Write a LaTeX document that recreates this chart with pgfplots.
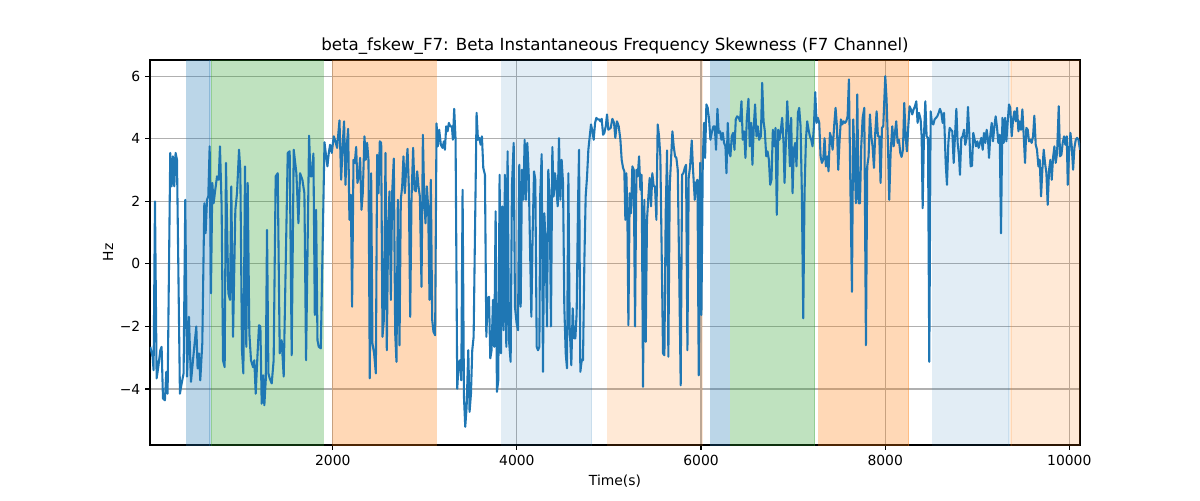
\documentclass[border=0pt]{standalone}
\usepackage{fontspec}
\setmainfont{DejaVu Sans}
\usepackage{pgfplots}
\pgfplotsset{compat=1.18}
\usepackage{pgfplotstable}
\definecolor{mblue}{HTML}{1F77B4}
\definecolor{mgreen}{HTML}{2CA02C}
\definecolor{morange}{HTML}{FF7F0E}
\definecolor{gridgray}{HTML}{B0B0B0}

\pgfplotstableread{
x y
18 -2.65
43 -2.97
54 -3.4
69 2.0
87 -3.66
105 -3.3
127 -2.76
141 -2.65
156 -4.3
177 -4.36
192 -3.45
206 -4.15
235 3.55
250 2.48
264 3.44
279 2.48
293 3.55
308 3.33
340 -4.15
359 -3.82
380 -3.5
398 2.05
417 -3.6
438 -1.69
460 -3.77
482 -3.08
496 -2.65
518 -2.0
532 -3.34
547 -2.86
561 -3.72
583 -2.54
605 1.94
619 0.98
634 2.05
648 2.16
663 3.76
677 -0.94
692 2.59
706 1.94
724 2.37
743 2.8
761 2.69
775 3.76
793 1.84
808 -3.08
826 -3.3
840 3.23
866 -0.94
884 -1.15
898 2.48
917 -2.33
942 1.73
960 2.26
982 3.65
996 3.01
1014 -2.76
1029 -3.5
1047 3.12
1061 -2.65
1076 2.59
1094 -2.22
1112 -3.08
1134 -3.3
1148 -3.08
1163 -4.15
1185 -2.76
1199 -1.96
1214 -2.0
1228 -4.47
1243 -3.56
1257 -4.52
1272 -3.72
1286 1.09
1301 -3.5
1315 -3.66
1337 -3.82
1358 -3.08
1380 2.8
1402 2.9
1424 -2.86
1445 -2.44
1467 -3.6
1511 3.55
1532 3.6
1554 -2.92
1576 3.65
1605 2.9
1627 1.3
1645 2.9
1670 2.69
1692 2.26
1710 -3.08
1743 4.1
1758 2.8
1772 2.8
1790 3.53
1805 -1.63
1819 1.73
1834 -2.44
1848 -2.65
1870 -2.7
1910 3.89
1928 3.44
1942 3.12
1957 3.55
1971 3.81
1989 3.55
2011 4.08
2029 3.92
2047 3.71
2073 4.59
2091 2.69
2109 3.87
2123 4.56
2138 2.53
2152 3.76
2167 4.32
2181 1.41
2196 2.21
2210 -1.37
2225 3.33
2239 3.23
2254 3.74
2268 2.59
2283 2.8
2297 3.39
2312 1.73
2326 2.26
2344 4.08
2359 3.33
2373 3.87
2388 3.33
2402 -3.66
2417 2.9
2431 -2.54
2449 -2.86
2468 -3.5
2482 3.49
2497 2.26
2511 3.92
2526 3.87
2540 -2.33
2555 -1.79
2573 3.55
2587 -2.76
2602 1.2
2616 2.32
2631 -1.15
2645 2.26
2663 3.37
2678 -2.22
2692 -3.13
2707 2.05
2725 -2.6
2739 2.05
2754 2.48
2768 3.44
2783 2.26
2797 3.01
2812 3.68
2826 2.48
2841 -1.69
2855 2.05
2873 3.71
2888 2.37
2902 2.32
2917 2.96
2931 2.48
2946 2.16
2964 -0.73
2979 4.13
2993 2.16
3007 1.3
3022 2.48
3036 1.84
3051 -1.15
3065 2.69
3080 -1.79
3094 -2.17
3112 -2.28
3127 4.49
3141 3.76
3156 4.29
3174 3.81
3192 3.71
3207 3.92
3218 3.65
3232 4.4
3247 4.24
3261 4.51
3276 4.4
3294 4.4
3305 3.97
3319 4.96
3334 3.97
3352 -3.99
3367 -3.18
3381 -3.08
3396 -3.72
3410 2.37
3425 -4.25
3439 -5.21
3454 -4.57
3472 -2.76
3486 -4.73
3501 -4.15
3515 -2.76
3530 -2.33
3562 4.83
3577 3.97
3591 4.03
3606 3.81
3620 4.08
3635 3.07
3653 2.85
3668 -2.33
3682 -1.1
3697 -1.05
3711 -3.02
3725 -2.76
3740 -1.15
3754 -2.65
3769 1.68
3783 -4.09
3798 -3.72
3812 2.85
3827 -2.86
3841 1.84
3856 -2.12
3870 2.85
3885 -2.65
3899 3.6
3914 -2.44
3932 -3.13
3946 2.48
3965 3.87
3979 -1.37
3997 -1.9
4012 -2.12
4026 3.17
4041 -1.37
4055 3.01
4070 2.05
4084 3.97
4099 2.05
4113 3.87
4128 2.9
4142 0.61
4157 -1.69
4171 0.98
4186 2.96
4200 2.69
4215 -2.65
4229 -2.76
4244 -2.65
4254 2.26
4269 3.51
4283 -3.45
4298 1.62
4312 0.66
4327 -2.0
4341 3.01
4356 2.05
4370 -2.0
4385 3.74
4399 2.16
4414 2.9
4428 2.48
4443 1.84
4457 4.02
4472 2.05
4486 3.33
4501 2.59
4515 -1.37
4530 -2.86
4544 -3.34
4559 2.9
4573 -2.0
4591 -3.24
4606 -1.42
4620 -2.38
4635 -2.38
4649 -1.58
4664 1.94
4675 3.65
4689 -3.45
4704 -3.08
4718 -3.08
4733 0.13
4747 2.16
4762 2.8
4776 3.65
4791 4.08
4805 4.46
4820 4.24
4834 3.97
4849 4.51
4863 4.67
4878 4.62
4892 4.62
4907 4.56
4921 4.64
4936 4.13
4950 4.19
4965 4.4
4979 4.78
4993 4.29
5019 4.35
5037 4.64
5055 4.51
5069 4.03
5087 4.56
5106 4.4
5124 3.97
5138 3.33
5153 3.07
5167 2.96
5178 1.41
5189 2.9
5200 1.57
5211 -1.96
5225 2.26
5240 1.62
5254 3.12
5269 3.01
5283 -2.0
5298 3.01
5312 2.8
5327 3.44
5341 2.37
5355 2.85
5370 -3.93
5384 2.05
5399 -2.49
5413 1.41
5428 2.16
5442 2.75
5457 1.84
5471 2.9
5486 2.48
5500 2.48
5515 1.41
5529 4.46
5544 4.08
5558 3.44
5573 0.24
5587 -2.86
5602 -2.92
5616 1.62
5631 3.63
5645 -2.97
5660 2.48
5674 3.33
5689 4.24
5703 3.76
5718 3.44
5732 3.39
5747 3.01
5761 0.13
5779 -3.88
5794 2.85
5808 2.9
5823 3.07
5837 3.17
5852 -2.76
5866 2.75
5881 3.12
5899 3.95
5913 3.01
5932 2.05
5946 2.59
5961 2.69
5975 -3.56
5990 3.23
6004 -1.63
6019 3.33
6033 4.51
6044 3.39
6058 5.1
6073 4.99
6087 4.62
6102 3.97
6116 4.19
6134 4.4
6149 4.4
6163 3.65
6178 4.96
6192 4.19
6207 4.24
6221 3.97
6236 4.19
6250 3.87
6265 3.76
6276 2.9
6290 4.51
6305 3.55
6319 3.44
6334 4.08
6348 4.19
6363 3.65
6377 4.62
6392 4.72
6410 4.67
6424 4.56
6439 5.2
6453 3.97
6468 4.24
6482 3.39
6497 4.62
6515 5.28
6529 3.76
6544 4.51
6558 3.17
6573 4.4
6587 5.1
6602 4.08
6616 4.4
6631 3.97
6650 4.08
6664 5.79
6679 4.56
6693 4.24
6708 3.44
6722 3.6
6737 3.33
6751 2.53
6765 2.69
6780 4.29
6794 3.76
6809 4.35
6823 1.57
6838 4.29
6852 3.97
6867 4.29
6881 4.67
6896 3.87
6907 2.59
6921 3.87
6936 5.2
6950 4.4
6965 3.12
6979 4.67
6994 2.26
7008 3.65
7023 3.87
7037 3.12
7052 4.83
7066 4.99
7081 4.4
7095 2.26
7110 -1.74
7124 2.26
7139 3.97
7153 4.56
7168 4.29
7182 4.08
7197 3.97
7211 3.76
7226 4.4
7240 5.49
7255 4.51
7269 4.67
7284 4.51
7298 3.44
7313 3.23
7327 3.33
7342 4.02
7356 3.12
7371 3.44
7385 2.96
7400 4.19
7414 4.03
7429 3.65
7447 4.46
7461 4.99
7476 4.4
7490 3.01
7505 3.97
7519 4.62
7534 4.46
7548 4.56
7563 4.51
7577 4.56
7592 4.72
7606 5.9
7621 2.69
7639 -0.89
7653 4.62
7668 3.33
7682 1.94
7697 5.42
7711 1.94
7726 1.94
7740 3.76
7755 4.67
7773 4.99
7791 -2.6
7805 3.12
7820 3.44
7834 4.78
7849 4.08
7863 3.76
7878 3.07
7892 4.19
7907 4.88
7921 4.08
7936 4.08
7950 2.59
7965 4.35
7979 4.4
8001 6.0
8015 5.26
8030 3.87
8044 2.05
8059 3.55
8077 4.4
8092 3.76
8106 4.19
8120 4.56
8135 3.87
8149 3.97
8164 3.55
8178 3.42
8193 3.65
8207 5.15
8222 4.08
8236 3.6
8251 4.4
8265 5.04
8280 4.94
8294 4.78
8309 4.94
8323 5.04
8338 5.2
8352 4.51
8367 4.83
8385 4.62
8396 4.08
8407 1.78
8421 4.08
8436 5.2
8450 4.08
8465 4.03
8479 -3.13
8494 4.88
8508 4.51
8523 4.46
8537 4.62
8552 4.67
8566 4.72
8581 4.83
8595 4.96
8610 4.83
8624 4.51
8639 4.83
8657 3.23
8671 2.53
8686 3.87
8700 4.35
8715 4.29
8729 4.24
8744 3.23
8758 4.08
8773 4.96
8787 3.87
8802 3.44
8812 2.85
8827 4.03
8841 4.08
8856 4.29
8870 3.81
8885 4.03
8899 5.02
8914 4.13
8928 3.12
8943 3.14
8957 4.19
8972 3.97
8986 3.76
9001 3.92
9015 3.71
9030 3.87
9044 4.03
9059 3.65
9073 4.19
9088 3.87
9102 4.29
9117 3.97
9128 3.39
9142 4.13
9157 4.51
9171 3.92
9186 4.4
9200 4.72
9215 4.35
9229 3.87
9244 4.13
9258 0.98
9273 4.67
9287 3.87
9302 4.67
9316 3.92
9331 4.56
9345 5.1
9359 4.99
9374 4.08
9389 4.62
9403 4.88
9418 4.56
9432 4.99
9447 4.24
9461 4.56
9475 4.29
9490 4.94
9504 4.13
9519 3.23
9533 4.35
9548 4.29
9562 3.92
9577 3.97
9591 3.87
9606 4.08
9620 4.74
9635 3.81
9649 3.65
9664 3.12
9678 3.33
9693 2.16
9707 3.01
9722 3.65
9736 3.23
9751 2.9
9765 1.89
9780 3.01
9794 3.33
9809 2.69
9823 3.39
9838 3.76
9852 3.23
9867 3.55
9885 5.04
9899 3.44
9914 3.49
9928 3.87
9943 4.08
9957 3.81
9972 4.08
9983 2.53
9997 3.55
10012 4.19
10026 3.76
10041 3.01
10055 3.71
10070 3.97
10084 4.03
10099 3.97
10116 3.65
}\datatable

\begin{document}
\begin{tikzpicture}
\useasboundingbox (-108pt,-39.6pt) rectangle (756pt,320.4pt);
\begin{axis}[
  at={(0,0)}, anchor=south west,
  width=669.6pt, height=277.2pt, scale only axis,
  xmin=15, xmax=10116, ymin=-5.79, ymax=6.52,
  xtick={2000,4000,6000,8000,10000},
  xticklabels={2000,4000,6000,8000,10000},
  ytick={-4,-2,0,2,4,6},
  yticklabels={−4,−2,0,2,4,6},
  scaled x ticks=false, scaled y ticks=false,
  /pgf/number format/assume math mode=true,
  tick align=outside, xtick pos=bottom, ytick pos=left,
  major tick length=3.5pt,
  tick style={black, line width=0.8pt},
  grid=major, grid style={gridgray, line width=0.8pt},
  axis line style={line width=0.8pt},
  tick label style={font=\fontsize{10}{12}\selectfont},
  title={beta\_fskew\_F7: Beta Instantaneous Frequency Skewness (F7 Channel)},
  title style={font=\fontsize{12}{14}\selectfont, at={(axis description cs:0.5,1)}, anchor=base, yshift=0.5pt},
  xlabel={Time(s)}, ylabel={Hz},
  xlabel style={font=\fontsize{10}{12}\selectfont, at={(axis description cs:0.5,0)}, anchor=base, yshift=-29.5pt},
  ylabel style={font=\fontsize{10}{12}\selectfont, at={(axis description cs:-0.0452,0.5)}, anchor=center},
  clip=true,
]
% shaded segments
\addplot[draw=mblue, draw opacity=0.3, fill=mblue, fill opacity=0.3, line width=0.8pt] coordinates {(413,-10) (413,10) (667,10) (667,-10)} -- cycle;
\addplot[draw=mgreen, draw opacity=0.3, fill=mgreen, fill opacity=0.3, line width=0.8pt] coordinates {(682,-10) (682,10) (1895,10) (1895,-10)} -- cycle;
\addplot[draw=morange, draw opacity=0.3, fill=morange, fill opacity=0.3, line width=0.8pt] coordinates {(2000,-10) (2000,10) (3124,10) (3124,-10)} -- cycle;
\addplot[draw=mblue, draw opacity=0.13, fill=mblue, fill opacity=0.13, line width=0.8pt] coordinates {(3837,-10) (3837,10) (4812,10) (4812,-10)} -- cycle;
\addplot[draw=morange, draw opacity=0.17, fill=morange, fill opacity=0.17, line width=0.8pt] coordinates {(4986,-10) (4986,10) (6011,10) (6011,-10)} -- cycle;
\addplot[draw=mblue, draw opacity=0.3, fill=mblue, fill opacity=0.3, line width=0.8pt] coordinates {(6105,-10) (6105,10) (6309,10) (6309,-10)} -- cycle;
\addplot[draw=mgreen, draw opacity=0.3, fill=mgreen, fill opacity=0.3, line width=0.8pt] coordinates {(6323,-10) (6323,10) (7236,10) (7236,-10)} -- cycle;
\addplot[draw=morange, draw opacity=0.3, fill=morange, fill opacity=0.3, line width=0.8pt] coordinates {(7276,-10) (7276,10) (8254,10) (8254,-10)} -- cycle;
\addplot[draw=mblue, draw opacity=0.13, fill=mblue, fill opacity=0.13, line width=0.8pt] coordinates {(8518,-10) (8518,10) (9345,10) (9345,-10)} -- cycle;
\addplot[draw=morange, draw opacity=0.17, fill=morange, fill opacity=0.17, line width=0.8pt] coordinates {(9366,-10) (9366,10) (10300,10) (10300,-10)} -- cycle;
% signal
\addplot[mblue, line width=1.5pt, line join=round, mark=none] table[x=x, y=y] {\datatable};
\end{axis}
\end{tikzpicture}
\end{document}
